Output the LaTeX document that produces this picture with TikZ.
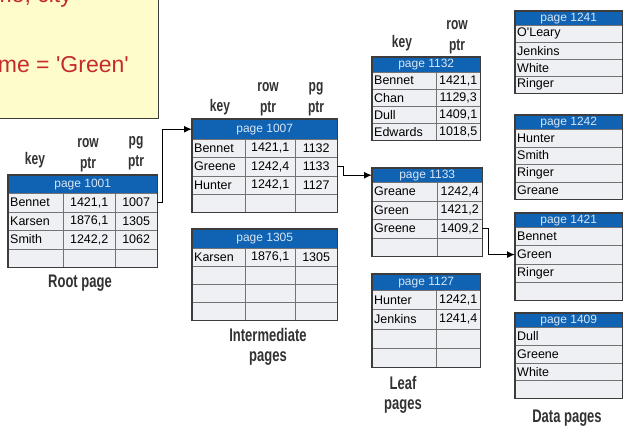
\documentclass[tikz,border=0pt]{standalone}
\usepackage{fontspec}
\setmainfont{Liberation Sans}
\usepackage{graphicx}
\usetikzlibrary{arrows.meta, positioning}

\definecolor{hdrblue}{RGB}{16,98,178}
\definecolor{hdrtext}{RGB}{215,230,246}
\definecolor{cellgray}{RGB}{238,240,243}
\definecolor{gridgray}{RGB}{115,115,115}
\definecolor{framegray}{RGB}{60,60,60}
\definecolor{notefill}{RGB}{255,252,204}
\definecolor{notered}{RGB}{196,44,44}
\definecolor{lblgray}{RGB}{50,50,50}

\newcommand{\tall}[1]{\scalebox{1}[1.4]{#1}}

\begin{document}
\begin{tikzpicture}[x=1pt, y=-1pt]

\tikzset{hdr/.style = {draw=gridgray, fill=hdrblue, text=hdrtext, inner sep=0pt, anchor=north west, font=\fontsize{12}{12}\selectfont}}
\tikzset{cell/.style = {draw=gridgray, fill=cellgray, inner sep=0pt, anchor=north west, font=\fontsize{12.5}{13}\selectfont}}
\tikzset{keycell/.style = {cell, text width=#1, align=left, inner xsep=2pt}}
\tikzset{frame/.style = {draw=framegray, line width=1.1pt}}
\tikzset{link/.style = {-{Latex[length=8pt,width=7pt]}, line width=1.3pt}}
\tikzset{colhead/.style = {text=lblgray, align=center, font=\fontsize{12}{21}\selectfont\bfseries}}
\tikzset{lbl/.style = {text=lblgray, align=center, font=\fontsize{13}{20}\selectfont\bfseries}}
\tikzset{note/.style = {fill=notefill, draw=framegray, line width=1pt, anchor=north west, inner sep=0pt}}
\tikzset{query/.style = {text=notered, anchor=base east, inner sep=0pt, font=\fontsize{23}{24}\selectfont}}

\useasboundingbox (0,0) rectangle (630,434);
\clip (0,0) rectangle (630,434);
\fill[white] (0,0) rectangle (630,434);

% query box
\node[note, minimum width=170, minimum height=130] (qbox) at (-12,-12) {};
\node[query] (qsel) at (72,2) {name, city};
\node[query] (qwhere) at (129,72) {name = \textquotesingle Green\textquotesingle};

% root page
\node[hdr, minimum width=149, minimum height=18] (p1001) at (8,175) {page 1001};
\foreach \k/\r/\g [count=\i] in {Bennet/{1421,1}/1007,Karsen/{1876,1}/1305,Smith/{1242,2}/1062,{}/{}/{}} {
  \node[keycell=51, minimum height=18.5] (p1001k\i) at (8,{193+18.5*(\i-1)}) {\k};
  \node[cell, minimum width=52, minimum height=18.5] (p1001r\i) at (63,{193+18.5*(\i-1)}) {\r};
  \node[cell, minimum width=42, minimum height=18.5] (p1001g\i) at (115,{193+18.5*(\i-1)}) {\g};
}
\draw[frame] (p1001.north west) rectangle (p1001g4.south east);
\node[colhead] (rkey) at (35,160) {\tall{key}};
\node[colhead] (rrow) at (88,155) {\tall{row}\\\tall{ptr}};
\node[colhead] (rpg) at (136,153) {\tall{pg}\\\tall{ptr}};
\node[lbl] (rootlbl) at (80,283) {\tall{Root page}};

% intermediate pages
\node[hdr, minimum width=145, minimum height=20] (p1007) at (192,119) {page 1007};
\foreach \k/\r/\g [count=\i] in {Bennet/{1421,1}/1132,Greene/{1242,4}/1133,Hunter/{1242,1}/1127,{}/{}/{}} {
  \node[keycell=49, minimum height=18.25] (p1007k\i) at (192,{139+18.25*(\i-1)}) {\k};
  \node[cell, minimum width=50, minimum height=18.25] (p1007r\i) at (245,{139+18.25*(\i-1)}) {\r};
  \node[cell, minimum width=42, minimum height=18.25] (p1007g\i) at (295,{139+18.25*(\i-1)}) {\g};
}
\draw[frame] (p1007.north west) rectangle (p1007g4.south east);
\node[colhead] (ikey) at (220,107) {\tall{key}};
\node[colhead] (irow) at (268,99) {\tall{row}\\\tall{ptr}};
\node[colhead] (ipg) at (316,99) {\tall{pg}\\\tall{ptr}};

\node[hdr, minimum width=145, minimum height=19] (p1305) at (192,229) {page 1305};
\foreach \k/\r/\g [count=\i] in {Karsen/{1876,1}/1305,{}/{}/{},{}/{}/{},{}/{}/{}} {
  \node[keycell=49, minimum height=18] (p1305k\i) at (192,{248+18*(\i-1)}) {\k};
  \node[cell, minimum width=50, minimum height=18] (p1305r\i) at (245,{248+18*(\i-1)}) {\r};
  \node[cell, minimum width=42, minimum height=18] (p1305g\i) at (295,{248+18*(\i-1)}) {\g};
}
\draw[frame] (p1305.north west) rectangle (p1305g4.south east);
\node[lbl] (intlbl) at (268,347) {\tall{Intermediate}\\\tall{pages}};

% leaf pages
\node[hdr, minimum width=108, minimum height=15] (p1132) at (372,57) {page 1132};
\foreach \k/\r [count=\i] in {Bennet/{1421,1},Chan/{1129,3},Dull/{1409,1},Edwards/{1018,5}} {
  \node[keycell=60, minimum height=17] (p1132k\i) at (372,{72+17*(\i-1)}) {\k};
  \node[cell, minimum width=44, minimum height=17] (p1132r\i) at (436,{72+17*(\i-1)}) {\r};
}
\draw[frame] (p1132.north west) rectangle (p1132r4.south east);
\node[colhead] (lkey) at (402,43) {\tall{key}};
\node[colhead] (lrow) at (457,37) {\tall{row}\\\tall{ptr}};

\node[hdr, minimum width=110, minimum height=14] (p1133) at (372,168) {page 1133};
\foreach \k/\r [count=\i] in {Greane/{1242,4},Green/{1421,2},Greene/{1409,2},{}/{}} {
  \node[keycell=61, minimum height=18.5] (p1133k\i) at (372,{182+18.5*(\i-1)}) {\k};
  \node[cell, minimum width=45, minimum height=18.5] (p1133r\i) at (437,{182+18.5*(\i-1)}) {\r};
}
\draw[frame] (p1133.north west) rectangle (p1133r4.south east);

\node[hdr, minimum width=108, minimum height=16] (p1127) at (372,274) {page 1127};
\foreach \k/\r [count=\i] in {Hunter/{1242,1},Jenkins/{1241,4},{}/{},{}/{}} {
  \node[keycell=60, minimum height=19.25] (p1127k\i) at (372,{290+19.25*(\i-1)}) {\k};
  \node[cell, minimum width=44, minimum height=19.25] (p1127r\i) at (436,{290+19.25*(\i-1)}) {\r};
}
\draw[frame] (p1127.north west) rectangle (p1127r4.south east);
\node[lbl] (leaflbl) at (403,395) {\tall{Leaf}\\\tall{pages}};

% data pages
\node[hdr, minimum width=107, minimum height=14] (p1241) at (515,11) {page 1241};
\foreach \k [count=\i] in {O\textquotesingle Leary,Jenkins,White,Ringer} {
  \node[keycell=103, minimum height=17] (p1241k\i) at (515,{25+17*(\i-1)}) {\k};
}
\draw[frame] (p1241.north west) rectangle (p1241k4.south east);

\node[hdr, minimum width=107, minimum height=14] (p1242) at (515,115) {page 1242};
\foreach \k [count=\i] in {Hunter,Smith,Ringer,Greane} {
  \node[keycell=103, minimum height=17.5] (p1242k\i) at (515,{129+17.5*(\i-1)}) {\k};
}
\draw[frame] (p1242.north west) rectangle (p1242k4.south east);

\node[hdr, minimum width=107, minimum height=14] (p1421) at (515,213) {page 1421};
\foreach \k [count=\i] in {Bennet,Green,Ringer,{}} {
  \node[keycell=103, minimum height=18.25] (p1421k\i) at (515,{227+18.25*(\i-1)}) {\k};
}
\draw[frame] (p1421.north west) rectangle (p1421k4.south east);

\node[hdr, minimum width=107, minimum height=14] (p1409) at (515,313) {page 1409};
\foreach \k [count=\i] in {Dull,Greene,White,{}} {
  \node[keycell=103, minimum height=17.75] (p1409k\i) at (515,{327+17.75*(\i-1)}) {\k};
}
\draw[frame] (p1409.north west) rectangle (p1409k4.south east);
\node[lbl] (datalbl) at (567,418) {\tall{Data pages}};

%edges
\draw[link] (p1001g1.east) -- ++(5,0) |- (p1007.west);
\draw[link] (p1007g2.east) -- ++(6,0) |- (p1133.west);
\draw[link] (p1133r3.east) -- ++(6,0) |- (p1421k2.west);
\end{tikzpicture}
\end{document}
